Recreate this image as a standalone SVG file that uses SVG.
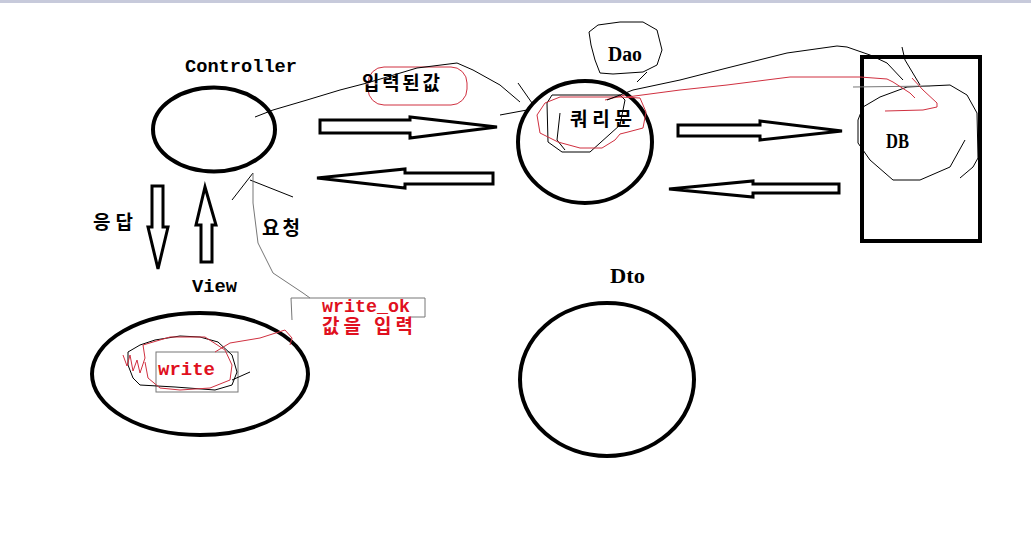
<svg xmlns="http://www.w3.org/2000/svg" width="1031" height="539" viewBox="0 0 1031 539">
<style>
.shape{fill:none;stroke:#000;stroke-width:4}
.arrow{fill:#fff;stroke:#000;stroke-width:3;stroke-linejoin:miter}
.ink{fill:none;stroke:#000;stroke-width:1}
.gray{fill:none;stroke:#777;stroke-width:1}
.red{fill:none;stroke:#d03040;stroke-width:1}
.mono{font-family:"Liberation Mono",monospace;font-weight:bold;font-size:19px;fill:#000}
.serif{font-family:"Liberation Serif",serif;font-weight:bold;font-size:20px;fill:#000}
.kr{font-family:"Liberation Sans","Noto Sans CJK KR",sans-serif;font-weight:bold;font-size:19px;fill:#000}
.redtxt{fill:#e01020}
</style>
<rect x="0" y="0" width="1031" height="539" fill="#fff"/>
<rect x="0" y="0" width="1031" height="3" fill="#c7cadb"/>

<g id="controller">
<ellipse class="shape" cx="214" cy="129.5" rx="61" ry="42"/>
<text class="mono" x="185" y="72" textLength="112" lengthAdjust="spacingAndGlyphs">Controller</text>
</g>

<g id="dao">
<ellipse class="shape" cx="585" cy="142" rx="67" ry="61"/>
<path class="ink" d="M591,45 L589,32 L598,25 L620,22 L643,22 L657,30 L662,50 L657,65 L643,72 L613,74 L600,73 L595,60 Z M647,72 L637,82"/>
<text class="serif" x="608" y="61" textLength="34" lengthAdjust="spacingAndGlyphs">Dao</text>
<path class="ink" d="M552,95 L620,95 L625,100 L620,125 L590,152 L562,152 L548,142 L547,103 Z"/>
<path class="ink" d="M560,113 L557,140 L565,150"/>
<path class="red" d="M537,115 L545,103 L560,97 L620,97 L640,98 L646,112 L643,128 L628,132 L620,134 L615,140 L602,148 L580,148 L558,142 L540,133 Z M605,100 L625,95"/>
<text class="kr" x="570" y="126" textLength="62">쿼리문</text>
</g>

<g id="db">
<rect class="shape" x="862" y="57" width="118" height="184"/>
<text class="serif" x="886" y="148" textLength="23" lengthAdjust="spacingAndGlyphs">DB</text>
<path class="ink" d="M863,107 L858,120 L858,143 L870,160 L893,180 L920,180 L950,167 L965,140"/>
<path class="ink" d="M863,107 L880,97 L907,87 L950,85 L967,95 L977,113 L978,158 L973,167 L960,178"/>
<path class="gray" d="M853,87 L930,86"/>
<path class="ink" d="M902,47 L905,60 L920,85"/>
</g>

<g id="view">
<ellipse class="shape" cx="200" cy="374" rx="108" ry="61"/>
<text class="mono" x="192" y="292" textLength="45" lengthAdjust="spacingAndGlyphs">View</text>
<rect class="gray" x="156" y="352" width="82" height="40"/>
<path class="ink" d="M128,352 L140,345 L155,340 L180,336 L200,337 L218,342 L232,355 L237,372 L232,385 L215,390 L175,387 L140,385 L133,378 L128,365 Z M232,380 L250,372"/>
<path class="red" d="M123,355 L127,366 L130,355 L133,371 L137,360 L140,373 L145,358 L143,345 L170,337 L205,337 L225,350 L232,365 L230,380 L210,388 L180,390 L160,388 L148,378 L145,362 M215,352 L230,343 L260,338 L285,330 L292,338 L290,345"/>
<text class="mono redtxt" x="158" y="375" textLength="57" lengthAdjust="spacingAndGlyphs">write</text>
</g>

<g id="dto">
<ellipse class="shape" cx="607" cy="379.5" rx="87" ry="76.5"/>
<text class="serif" x="610" y="283" textLength="35" lengthAdjust="spacingAndGlyphs">Dto</text>
</g>

<g id="note">
<path class="gray" d="M292,320 L291,298 L425,298 L425,317 L410,317"/>
<text class="mono redtxt" x="322" y="312" textLength="88" lengthAdjust="spacingAndGlyphs">write_ok</text>
<text class="kr redtxt" x="322" y="333" textLength="91">값을 입력</text>
</g>

<g id="connectors">
<path class="arrow" d="M320,120 L410,120 L410,117 L497,127 L410,138 L410,133 L320,133 Z"/>
<path class="arrow" d="M493,173 L405,173 L405,169 L317,178 L405,188 L405,184 L493,184 Z"/>
<path class="arrow" d="M678,125 L760,125 L760,121 L842,131 L760,140 L760,136 L678,136 Z"/>
<path class="arrow" d="M839,184 L753,184 L753,181 L669,189 L753,197 L753,193 L839,193 Z"/>
<path class="arrow" d="M152,186 L163,186 L163,227 L168,227 L158,269 L148,227 L152,227 Z"/>
<path class="arrow" d="M205,187 L216,225 L212,225 L212,262 L201,262 L201,225 L196,225 Z"/>
<text class="kr" x="93" y="229" textLength="40">응답</text>
<text class="kr" x="262" y="235" textLength="38">요청</text>
<rect class="red" x="368" y="67" width="99" height="38" rx="16"/>
<text class="kr" x="362" y="90" textLength="78">입력된값</text>
<path class="ink" d="M255,117 L273,110 L307,100 L340,90 L367,83 L417,68 L457,63 L473,70 L500,85 L520,102"/>
<path class="ink" d="M518,83 L532,103 M500,115 L527,110"/>
<path class="ink" d="M607,100 L633,90 L680,80 L727,68 L787,53 L837,46 L847,47 L870,55 L887,63 L903,80"/>
<path class="red" d="M627,97 L680,90 L727,85 L790,77 L860,77 L887,79 L893,82 L910,93 L915,98 M912,78 L923,90 L937,103 L937,107 L923,110 L885,111"/>
<path class="ink" d="M232,200 L253,173 M250,180 L293,197"/>
<path class="gray" d="M253,173 L253,203 L258,243 L273,273 L303,293 L310,298"/>
</g>
</svg>
